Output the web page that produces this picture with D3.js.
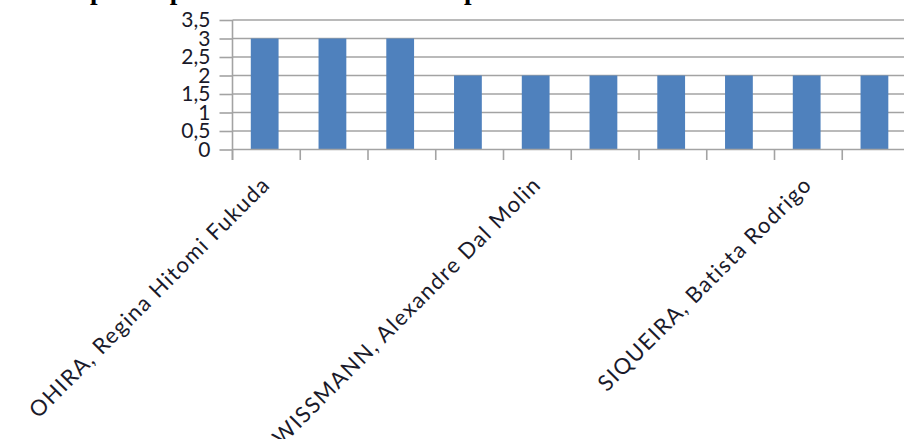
<!DOCTYPE html>
<html><head><meta charset="utf-8">
<script src="https://cdn.jsdelivr.net/npm/d3@7"></script>
<style>body{margin:0;background:#fff;overflow:hidden;} svg{display:block;}</style>
</head><body>
<script>
// Data
const categories = ["OHIRA, Regina Hitomi Fukuda", "", "", "", "WISSMANN, Alexandre Dal Molin", "", "", "", "SIQUEIRA, Batista Rodrigo", ""];
const values = [3, 3, 3, 2, 2, 2, 2, 2, 2, 2];
const yTicks = [0, 0.5, 1, 1.5, 2, 2.5, 3, 3.5];
const yTickLabels = ["0", "0,5", "1", "1,5", "2", "2,5", "3", "3,5"];
const titleText = "nt. Graphic representation of academic productions";

const W = 904, H = 439;
const svg = d3.select("body").append("svg").attr("width", W).attr("height", H);

const x = d3.scaleBand().domain(d3.range(categories.length)).range([232.5, 910]).padding(0);
const y = d3.scaleLinear().domain([0, 3.5]).range([149.5, 20]);

// Title (clipped at top edge, as in the reference)
svg.append("text").attr("x", 6).attr("y", -1)
  .attr("font-family", "Liberation Serif").attr("font-weight", "bold").attr("font-size", 27)
  .attr("fill", "#000").text(titleText);

// gridlines
svg.append("g").selectAll("line").data(yTicks.filter(d => d > 0)).join("line")
  .attr("x1", 232.5).attr("x2", W).attr("y1", d => y(d)).attr("y2", d => y(d))
  .attr("stroke", "#a3a3a3").attr("stroke-width", 1.6);

// y axis
const yAxis = d3.axisLeft(y).tickValues(yTicks).tickFormat((d, i) => yTickLabels[i]).tickSize(13).tickPadding(9);
const gy = svg.append("g").attr("transform", "translate(232.5,0)").call(yAxis);
gy.select(".domain").remove();
gy.selectAll(".tick line").attr("stroke", "#a3a3a3").attr("stroke-width", 1.6);
gy.selectAll(".tick text").attr("font-family", "Lato").attr("font-size", 21).attr("fill", "#1a1a2a");

// bars
const bw = x.bandwidth();
svg.append("g").selectAll("rect").data(values).join("rect")
  .attr("x", (d, i) => x(i) + bw * 0.27)
  .attr("width", bw * 0.41)
  .attr("y", d => y(d))
  .attr("height", d => y(0) - y(d))
  .attr("fill", "#4f81bd");

// x axis line
svg.append("line").attr("x1", 232.5).attr("x2", W).attr("y1", y(0)).attr("y2", y(0))
  .attr("stroke", "#a3a3a3").attr("stroke-width", 1.6);
// y axis line
svg.append("line").attr("x1", 232.5).attr("x2", 232.5).attr("y1", y(3.5)).attr("y2", 160)
  .attr("stroke", "#a3a3a3").attr("stroke-width", 1.6);
// x ticks at band boundaries
svg.append("g").selectAll("line").data(d3.range(categories.length + 1)).join("line")
  .attr("x1", i => 232.5 + i * x.step()).attr("x2", i => 232.5 + i * x.step())
  .attr("y1", y(0)).attr("y2", 160)
  .attr("stroke", "#a3a3a3").attr("stroke-width", 1.6);

// x labels
svg.append("g").selectAll("text").data(categories).join("text")
  .attr("transform", (d, i) => `translate(${x(i) + bw / 2 + 5},186) rotate(-45)`)
  .attr("text-anchor", "end")
  .attr("font-family", "Lato").attr("font-size", 22).attr("letter-spacing", 1.4)
  .attr("fill", "#1a1a2a")
  .text(d => d);
</script>
</body></html>
